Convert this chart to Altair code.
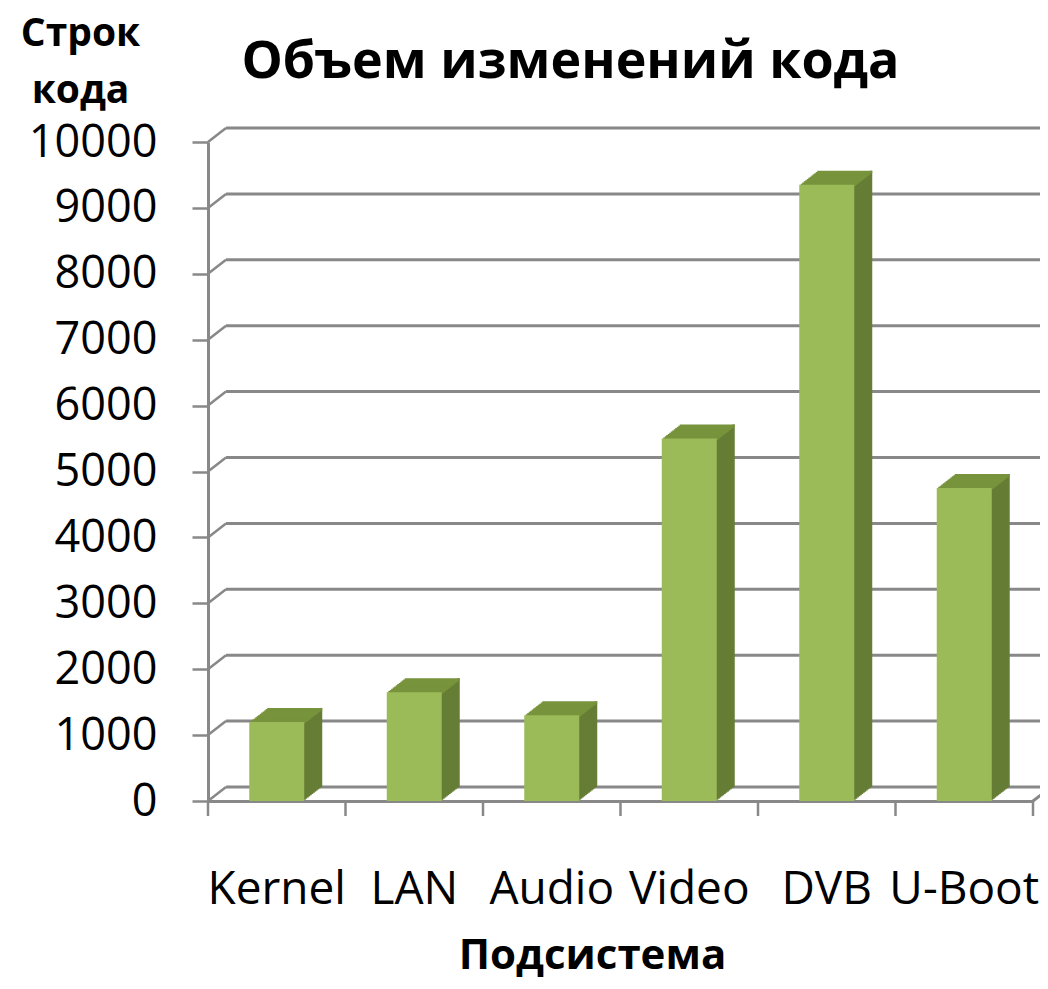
import altair as alt
import pandas as pd

# ---- data ----
categories = ["Kernel", "LAN", "Audio", "Video", "DVB", "U-Boot"]
lines_changed = [1200, 1650, 1300, 5500, 9350, 4750]
y_ticks = [0, 1000, 2000, 3000, 4000, 5000, 6000, 7000, 8000, 9000, 10000]

title_text = "Объем изменений кода"
y_title = ["Строк", "кода"]
x_title = "Подсистема"

# ---- style ----
W, H = 825, 659          # plot area
DX, DY = 18, 14          # 3D depth offset
BAR_W = 55
N_STEPS = 12
FONT = "Open Sans"
FRONT = "#9BBB59"
TOP = "#77933C"
SIDE = "#667D36"
GRID = "#888888"

df = pd.DataFrame({"cat": categories, "val": lines_changed})
grid_df = pd.DataFrame({"val": y_ticks})
tick_df = pd.DataFrame({"cat": categories})

x_scale = alt.Scale(domain=categories, paddingInner=0, paddingOuter=0)
y_scale = alt.Scale(domain=[0, 10000], nice=False)

x_axis = alt.Axis(
    labelAngle=0, ticks=False, tickSize=0, grid=False,
    domainColor=GRID, domainWidth=3,
    labelFont=FONT, labelFontSize=46, labelColor="black",
    labelPadding=102, labelBaseline="alphabetic", labelOverlap=False,
    labelLimit=0,
    title=x_title, titleFont=FONT, titleFontSize=42, titleFontWeight="bold",
    titleColor="black", titleX=384, titleY=167, titleAlign="center",
    titleBaseline="alphabetic", titleAnchor="start",
)
y_axis = alt.Axis(
    values=y_ticks, format="d", grid=False,
    domainColor=GRID, domainWidth=3,
    tickColor=GRID, tickWidth=2.5, tickSize=16,
    labelFont=FONT, labelFontSize=45, labelColor="black",
    labelPadding=35, labelOverlap=False, labelFlush=False,
    title=y_title, titleFont=FONT, titleFontSize=39, titleFontWeight="bold",
    titleColor="black", titleAngle=0, titleAlign="center",
    titleBaseline="alphabetic", titleX=-128, titleY=-97,
    titleLineHeight=57, titleAnchor="start",
)

X = alt.X("cat:N", scale=x_scale, sort=categories, axis=x_axis)
Y = alt.Y("val:Q", scale=y_scale, axis=y_axis)

# back wall gridlines
grid_back = alt.Chart(grid_df).mark_rule(color=GRID, strokeWidth=3, yOffset=-DY).encode(
    y=Y, x=alt.value(DX), x2=alt.value(W + 22),
)
# left diagonals from front axis to back wall
grid_diag = alt.Chart(grid_df).mark_rule(color=GRID, strokeWidth=2.5, y2Offset=-DY).encode(
    y=Y, y2=alt.Y2("val"), x=alt.value(0), x2=alt.value(DX),
)
# floor right diagonal
floor_diag = alt.Chart(grid_df.head(1)).mark_rule(color=GRID, strokeWidth=3, y2Offset=-DY).encode(
    y=Y, y2=alt.Y2("val"), x=alt.value(W), x2=alt.value(W + DX),
)
# category boundary ticks
cat_ticks = alt.Chart(tick_df).mark_rule(color=GRID, strokeWidth=2.5).encode(
    x=alt.X("cat:N", scale=x_scale, sort=categories, axis=x_axis, bandPosition=0),
    y=alt.value(H), y2=alt.value(H + 15),
)
end_tick = alt.Chart(tick_df.head(1)).mark_rule(color=GRID, strokeWidth=2.5).encode(
    x=alt.value(W), y=alt.value(H), y2=alt.value(H + 15),
)

layers = [grid_back, grid_diag, floor_diag, cat_ticks, end_tick]

# side faces (extruded strips)
for k in range(1, N_STEPS + 1):
    dx = DX * k / N_STEPS
    dy = DY * k / N_STEPS
    side = alt.Chart(df).mark_bar(
        color=SIDE, width=2.5, xOffset=BAR_W / 2 + dx - 1.25,
        yOffset=-dy, y2Offset=-dy,
    ).encode(x=X, y=Y, y2=alt.datum(0))
    layers.append(side)

# top faces
for k in range(1, N_STEPS + 1):
    dx = DX * k / N_STEPS
    dy = DY * k / N_STEPS
    top = alt.Chart(df).mark_bar(
        color=TOP, width=BAR_W, xOffset=dx,
        yOffset=-dy, y2Offset=-dy + 2.5,
    ).encode(x=X, y=Y, y2=alt.Y2("val"))
    layers.append(top)

# front faces
front = alt.Chart(df).mark_bar(color=FRONT, width=BAR_W).encode(x=X, y=Y)
layers.append(front)

chart = alt.layer(*layers).properties(
    width=W, height=H,
    title=alt.TitleParams(
        title_text, font=FONT, fontSize=52, fontWeight="bold", color="black",
        anchor="middle", frame="group", dx=-50, offset=-116, baseline="alphabetic",
    ),
    padding={"left": 200, "top": 134, "right": 7, "bottom": 180},
    autosize=alt.AutoSizeParams(type="none"),
    background="white",
).configure_view(stroke=None)

chart.save("out.html", embed_options={"renderer": "svg", "actions": False})
